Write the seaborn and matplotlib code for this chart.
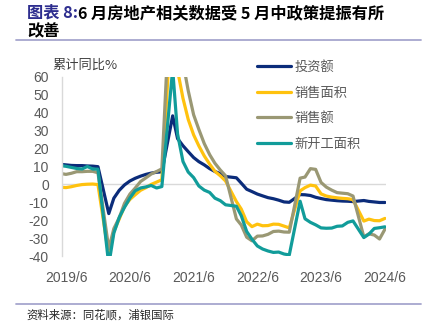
import matplotlib
matplotlib.use("Agg")
import matplotlib.pyplot as plt
import pandas as pd
import seaborn as sns

# ---------------- data ----------------
series_names = ["投资额", "销售面积", "销售额", "新开工面积"]
colors = ["#0B2C7A", "#FFC20E", "#9A9874", "#119C9A"]

invest = [11.2, 10.9, 10.6, 10.5, 10.5, 10.3, 10.2, 9.9,
          -16.3, -7.7, -3.3, -0.3, 1.9, 3.4, 4.6, 5.6, 6.3, 6.8, 7.0,
          38.3, 25.6, 21.6, 18.3, 15.0, 12.7, 10.9, 8.8, 7.2, 6.0, 4.4,
          3.7, 0.7, -2.7, -4.0, -5.4, -6.4, -7.4, -8.0, -8.8, -9.8, -10.0,
          -5.7, -5.8, -6.2, -7.2, -7.9, -8.5, -8.8, -9.1, -9.3, -9.4, -9.6,
          -9.0, -9.5, -9.8, -10.1, -10.1]
sales_area = [-1.6, -1.8, -1.3, -0.6, -0.1, 0.1, 0.2, -0.1,
              -39.9, -26.3, -19.3, -12.3, -8.4, -5.8, -3.3, -1.8, 0.0, 1.3, 2.6,
              104.9, 63.8, 48.1, 36.3, 27.7, 21.5, 15.9, 11.3, 7.3, 4.8, 1.9,
              -9.6, -13.8, -20.9, -23.6, -22.2, -23.1, -23.0, -22.2, -22.3, -23.3, -24.3,
              -3.6, -1.8, -0.4, -0.9, -5.3, -6.5, -7.1, -7.5, -7.8, -8.0, -8.5,
              -20.5, -19.4, -20.2, -20.3, -19.0]
sales_amt = [6.1, 5.6, 6.2, 7.1, 7.1, 7.3, 7.3, 6.5,
             -35.9, -24.7, -18.6, -10.6, -5.4, -2.1, 1.6, 3.7, 5.8, 7.2, 8.7,
             133.4, 88.5, 68.2, 52.4, 38.9, 30.7, 22.8, 16.6, 11.8, 8.0, 4.8,
             -19.3, -22.7, -29.5, -31.5, -28.9, -28.8, -27.9, -26.3, -26.1, -26.6, -26.7,
             3.5, 4.1, 8.8, 8.4, 1.1, -1.5, -3.2, -4.6, -4.9, -5.2, -6.5,
             -29.3, -27.6, -28.3, -30.5, -25.0]
new_start = [10.5, 10.1, 9.5, 8.9, 8.6, 10.0, 8.6, 8.5,
             -44.9, -27.2, -18.4, -12.8, -7.6, -3.6, -2.0, -1.4, -0.6, -2.0, -1.2,
             64.3, 28.2, 12.8, 6.9, 3.8, -0.9, -3.2, -4.5, -7.7, -9.1, -11.4,
             -12.2, -17.5, -26.3, -30.6, -34.4, -36.1, -37.2, -38.0, -37.8, -38.9, -39.4,
             -9.4, -19.2, -21.2, -22.6, -24.3, -24.5, -24.4, -23.4, -23.2, -21.2, -20.4,
             -29.7, -27.8, -24.6, -24.2, -23.7]

months = pd.date_range("2019-05-01", "2024-06-01", freq="MS")
months = months[months.month != 1]

tick_dates = pd.to_datetime(["2019-06-01", "2020-06-01", "2021-06-01",
                             "2022-06-01", "2023-06-01", "2024-06-01"])
tick_labels = ["2019/6", "2020/6", "2021/6", "2022/6", "2023/6", "2024/6"]
y_ticks = list(range(-40, 61, 10))

frames = []
for name, vals in zip(series_names, [invest, sales_area, sales_amt, new_start]):
    frames.append(pd.DataFrame({"date": months, "value": vals, "series": name}))
df = pd.concat(frames, ignore_index=True)

# ---------------- style ----------------
sns.set_theme(style="white")
plt.rcParams["font.family"] = ["Noto Sans CJK SC", "DejaVu Sans"]

W, H = 432, 328
fig = plt.figure(figsize=(W / 100, H / 100), dpi=100)
ax = fig.add_axes([62 / W, 1 - 256 / H, (386 - 62) / W, (256 - 77) / H])

sns.lineplot(data=df, x="date", y="value", hue="series", hue_order=series_names,
             palette=colors, linewidth=2.3, ax=ax, sort=True)

ax.set_ylim(-40, 60)
ax.set_xlim(pd.Timestamp("2019-05-09"), pd.Timestamp("2024-06-07"))
ax.set_yticks(y_ticks)
ax.set_yticklabels([str(v) for v in y_ticks], fontfamily="Liberation Sans",
                   fontsize=10, color="#595959")
ax.set_xticks(tick_dates)
ax.set_xticklabels(tick_labels, fontfamily="Liberation Sans", fontsize=10,
                   color="#595959")
ax.tick_params(axis="y", length=0, pad=9.5)
ax.tick_params(axis="x", length=0, pad=10.5)
ax.set_xlabel("")
ax.set_ylabel("")
for s in ["top", "right", "bottom"]:
    ax.spines[s].set_visible(False)
ax.spines["left"].set_color("#D9D9D9")
ax.spines["left"].set_linewidth(1.0)
ax.axhline(0, color="#D9D9D9", lw=1.0, zorder=0)
ax.grid(False)

# legend
handles, labels = ax.get_legend_handles_labels()
ax.legend(handles, labels, loc="upper left", bbox_to_anchor=(257 / W, 1 - 61 / H),
          bbox_transform=fig.transFigure, frameon=False, fontsize=9.5,
          handlelength=2.6, handletextpad=0.25, labelspacing=0.95,
          borderpad=0, borderaxespad=0, labelcolor="#595959")

# y-axis caption
fig.text(52 / W, 1 - 65 / H, "累计同比%", fontsize=9.5, color="#404040",
         va="center", ha="left")

# title
renderer = fig.canvas.get_renderer()
t1 = fig.text(27 / W, 1 - 13 / H, "图表 8:", fontsize=11.7, fontweight="bold",
              color="#2E2E8F", va="center", ha="left")
bb = t1.get_window_extent(renderer)
fig.text(bb.x1 / W, 1 - 13 / H, "6 月房地产相关数据受 5 月中政策提振有所",
         fontsize=11.7, fontweight="bold", color="#000000", va="center", ha="left")
fig.text(27 / W, 1 - 31 / H, "改善", fontsize=11.7, fontweight="bold",
         color="#000000", va="center", ha="left")

# separator lines
fig.add_artist(plt.Line2D([16 / W, 421 / W], [1 - 40 / H, 1 - 40 / H],
                          transform=fig.transFigure, color="#A6A6CE", lw=1.3))
fig.add_artist(plt.Line2D([16 / W, 421 / W], [1 - 304 / H, 1 - 304 / H],
                          transform=fig.transFigure, color="#A6A6CE", lw=1.3))

# source
fig.text(26 / W, 1 - 315 / H, "资料来源：同花顺，浦银国际", fontsize=8.2,
         color="#262626", va="center", ha="left")

fig.savefig("out.png", dpi=100)
